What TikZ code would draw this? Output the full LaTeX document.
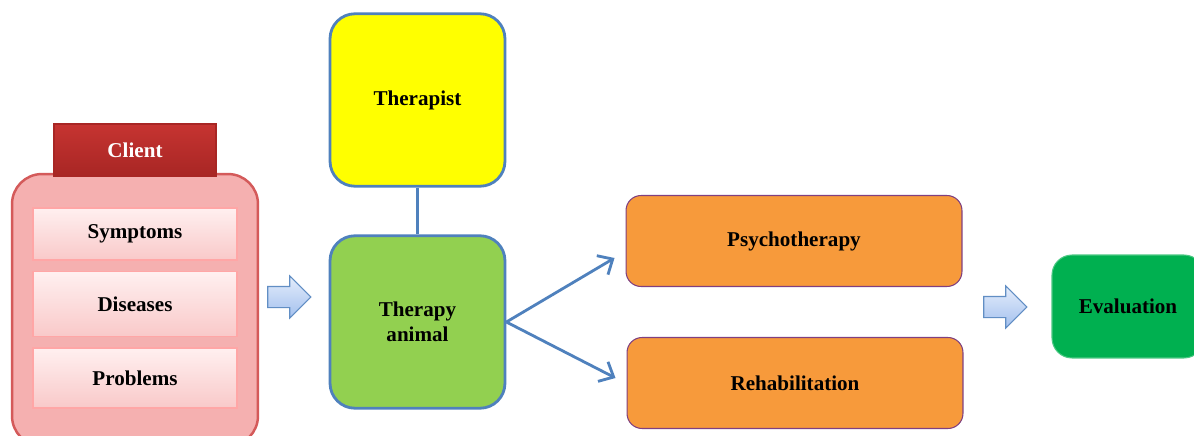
\documentclass[tikz,border=0pt]{standalone}
\usepackage{fontspec}
\setmainfont{Liberation Serif}
\usetikzlibrary{shapes.arrows,arrows.meta}
\definecolor{lineblue}{HTML}{4F81BD}
\definecolor{therapistyellow}{HTML}{FFFF00}
\definecolor{animalgreen}{HTML}{92D050}
\definecolor{therapyorange}{HTML}{F79A3B}
\definecolor{evalgreen}{HTML}{00B050}
\definecolor{clientred}{HTML}{C63431}
\definecolor{clientdark}{HTML}{A82624}
\definecolor{clientedge}{HTML}{D45A5A}
\definecolor{clientpink}{HTML}{F5B0B0}
\definecolor{itempink}{HTML}{F9C9C9}
\definecolor{arrowtop}{HTML}{E4EDFB}
\definecolor{arrowbottom}{HTML}{A3C0EE}
\begin{document}
\begin{tikzpicture}[x=0.02cm,y=-0.02cm,font=\bfseries\fontsize{12}{14}\selectfont]
\tikzstyle{bigbox}=[draw=lineblue,line width=1.6pt,rounded corners=0.5cm,minimum width=3.5cm,minimum height=3.45cm,align=center]
\tikzstyle{therapybox}=[draw=violet!50!gray,line width=0.6pt,fill=therapyorange,rounded corners=0.3cm,minimum width=6.72cm,minimum height=1.82cm]
\tikzstyle{itembox}=[draw=red!35,line width=0.6pt,top color=red!6,bottom color=itempink,minimum width=4.08cm]
\tikzstyle{blockarrow}=[single arrow,draw=lineblue!90,line width=0.6pt,top color=arrowtop,bottom color=arrowbottom,inner sep=0.2cm,single arrow head extend=0.21cm,minimum height=0.86cm]
\tikzstyle{link}=[draw=lineblue,line width=1.6pt,-{Straight Barb[length=2.4mm,width=4.4mm]}]
\clip (0,0) rectangle (1194,436);
\fill[white] (0,0) rectangle (1194,436);
\node[draw=clientedge,line width=1.4pt,fill=clientpink,rounded corners=0.6cm,minimum width=4.92cm,minimum height=5.44cm] (client) at (135,310) {};
\node[draw=clientdark,line width=0.6pt,top color=clientred,bottom color=clientdark,text=white,minimum width=3.24cm,minimum height=1.04cm] (clienthead) at (135,150) {Client};
\node[itembox,minimum height=1.04cm] (symptoms) at (135,234) {Symptoms};
\node[itembox,minimum height=1.3cm] (diseases) at (135,304) {Diseases};
\node[itembox,minimum height=1.2cm] (problems) at (135,378) {Problems};
\node[blockarrow] (arrowone) at (284,297) {};
\node[bigbox,fill=therapistyellow] (therapist) at (417.5,100) {Therapist};
\node[bigbox,fill=animalgreen] (animal) at (417.5,322) {Therapy\\animal};
\node[therapybox] (psycho) at (794,241) {Psychotherapy};
\node[therapybox] (rehab) at (795,383) {Rehabilitation};
\node[blockarrow] (arrowtwo) at (1000,307) {};
\node[draw=evalgreen!70!white,line width=0.6pt,fill=evalgreen,rounded corners=0.4cm,minimum width=3.04cm,minimum height=2.06cm] (evaluation) at (1128,306.5) {Evaluation};
\draw[draw=lineblue,line width=1.6pt] (therapist) -- (animal);
\draw[link] (animal.east) -- ([xshift=-0.22cm,yshift=-0.34cm]psycho.west);
\draw[link] (animal.east) -- ([xshift=-0.22cm,yshift=0.1cm]rehab.west);
\end{tikzpicture}
\end{document}
